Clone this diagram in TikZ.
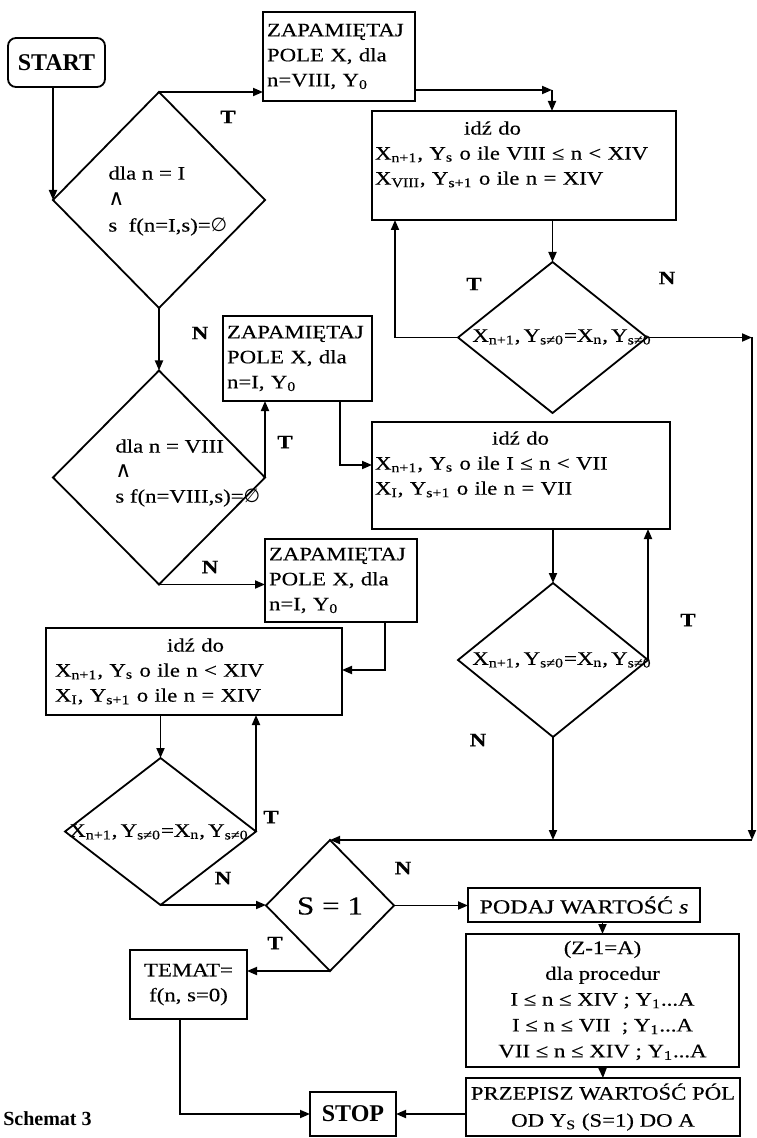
\documentclass[tikz,border=0pt]{standalone}
\usepackage{fontspec}
\setmainfont{Liberation Serif}[FakeStretch=1.2, FakeBold=0.3]
\newfontfamily\plainfont{Liberation Serif}
\newfontfamily\symfont{DejaVu Sans}
\usetikzlibrary{arrows.meta, shapes.geometric}
\newcommand{\ix}[1]{\textsubscript{#1}}

\tikzset{
  every node/.style={font=\fontsize{9.5}{12.5}\selectfont},
  box/.style={draw, line width=0.9pt, inner ysep=0pt, inner xsep=2pt, outer sep=0pt},
  lbox/.style={box, align=left},
  cbox/.style={box, align=center},
  term/.style={box, font=\plainfont\fontsize{12}{14}\selectfont\bfseries},
  dec/.style={draw, diamond, line width=0.9pt, inner sep=0pt, outer sep=0pt},
  dtext/.style={inner sep=0pt, align=left},
  yn/.style={font=\fontsize{9.5}{12}\selectfont\bfseries, inner sep=0pt},
  arr/.style={line width=0.9pt, -{Triangle[length=5pt,width=4pt]}},
}

\begin{document}
\begin{tikzpicture}[x=0.5pt,y=-0.5pt]
    \useasboundingbox (0,0) rectangle (756,1138);

    % left column
    \node[term, rounded corners=4pt, minimum width=48.5pt, minimum height=24.5pt] (start) at (56.5,62.5) {START};
    \node[dec, minimum width=106pt, minimum height=108pt] (d1) at (159,200) {};
    \node[dtext, anchor=west, font=\fontsize{9.5}{13}\selectfont] (d1txt) at (108,201) {dla n = I\\{\symfont\fontsize{11}{13}\selectfont ∧}\\s\ \ f(n=I,s)={\symfont ∅}};
    \node[dec, minimum width=106pt, minimum height=107pt] (d3) at (159,477.5) {};
    \node[dtext, anchor=west] (d3txt) at (115,473) {dla n = VIII\\{\symfont\fontsize{11}{12.5}\selectfont ∧}\\s f(n=VIII,s)={\symfont ∅}};
    \node[lbox, inner xsep=4.5pt, text width=139pt, minimum height=43.5pt] (idz3) at (194,671.5) {\hspace*{56pt}idź do\\X\ix{n+1}, Y\ix{s} o ile n < XIV\\X\ix{I}, Y\ix{s+1} o ile n = XIV};
    \node[dec, minimum width=95.5pt, minimum height=73.5pt] (d5) at (160.5,831.5) {};
    \node[dtext] (d5txt) at (159,832) {X\ix{n+1},\,Y\ix{s≠0}=X\ix{n},\,Y\ix{s≠0}};
    \node[cbox, minimum width=58.5pt, minimum height=34.5pt] (temat) at (188.5,984.5) {TEMAT=\\f(n, s=0)};
    \node[font=\plainfont\fontsize{10}{12}\selectfont\bfseries, anchor=east, inner sep=0pt] (caption) at (92,1119) {Schemat 3};

    % middle column
    \node[lbox, text width=72pt, minimum height=44.5pt] (zap1) at (339,56.5) {ZAPAMIĘTAJ\\POLE X, dla\\n=VIII, Y\ix{0}};
    \node[lbox, text width=70.5pt, minimum height=42.5pt] (zap2) at (297.5,358.5) {ZAPAMIĘTAJ\\POLE X, dla\\n=I, Y\ix{0}};
    \node[lbox, text width=72pt, minimum height=41.5pt] (zap3) at (341,580.5) {ZAPAMIĘTAJ\\POLE X, dla\\n=I, Y\ix{0}};
    \node[dec, minimum width=64pt, minimum height=65.5pt] (s1) at (330,905.5) {};
    \node[inner sep=0pt, font=\fontsize{13}{15}\selectfont] (s1txt) at (330,906) {S = 1};
    \node[term, minimum width=43pt, minimum height=22pt] (stop) at (353,1114) {STOP};

    % right column
    \node[lbox, inner xsep=1.5pt, text width=149pt, minimum height=54.5pt] (idz1) at (524,165.5) {\hspace*{44.5pt}idź do\\X\ix{n+1}, Y\ix{s} o ile VIII ≤ n < XIV\\X\ix{VIII}, Y\ix{s+1} o ile n = XIV\\\mbox{}};
    \node[dec, minimum width=94.5pt, minimum height=75.5pt] (d2) at (552.5,337.5) {};
    \node[dtext] (d2txt) at (562,337) {X\ix{n+1},\,Y\ix{s≠0}=X\ix{n},\,Y\ix{s≠0}};
    \node[lbox, inner xsep=1.5pt, text width=146pt, minimum height=53.5pt] (idz2) at (521,475.5) {\hspace*{58.5pt}idź do\\X\ix{n+1}, Y\ix{s} o ile I ≤ n < VII\\X\ix{I}, Y\ix{s+1} o ile n = VII\\\mbox{}};
    \node[dec, minimum width=95pt, minimum height=77pt] (d4) at (553,660) {};
    \node[dtext] (d4txt) at (562,660) {X\ix{n+1},\,Y\ix{s≠0}=X\ix{n},\,Y\ix{s≠0}};
    \node[cbox, minimum width=116pt, minimum height=17pt, font=\fontsize{10}{12}\selectfont] (podaj) at (584,905) {PODAJ WARTOŚĆ \textit{s}};
    \node[cbox, minimum width=136.5pt, minimum height=66.5pt, font=\fontsize{9.5}{12.9}\selectfont] (zbox) at (602.5,1000.5) {(Z-1=A)\\dla procedur\\I ≤ n ≤ XIV ; Y\ix{1}...A\\I ≤ n ≤ VII\ \ ; Y\ix{1}...A\\VII ≤ n ≤ XIV ; Y\ix{1}...A};
    \node[cbox, minimum width=137pt, minimum height=29pt, font=\fontsize{9.5}{13.5}\selectfont] (przep) at (603,1107) {PRZEPISZ WARTOŚĆ PÓL\\OD Y\ix{S} (S=1) DO A};

    % bends
    \coordinate (c1) at (552,90);
    \coordinate (c2) at (395,337.5);
    \coordinate (c3) at (752,337.5);
    \coordinate (c4) at (752,840);
    \coordinate (c5) at (340,465);
    \coordinate (c6) at (553,840);
    \coordinate (c7) at (385,670);
    \coordinate (c8) at (180,1114);

    % connectors
    \draw[arr] (start.south -| d1.west) -- (d1.west);
    \draw[arr] (d1.north) -- (d1.north -| zap1.west);
    \draw[arr] (zap1.east |- c1) -- (c1);
    \draw[arr] (c1) -- (c1 |- idz1.north);
    \draw[arr] (idz1.south -| d2.north) -- (d2.north);
    \draw[arr] (d2.west) -- (c2) -- (c2 |- idz1.south);
    \draw[arr] (d2.east) -- (c3);
    \draw[arr] (c3) -- (c4);
    \draw[arr] (c4) -- (s1.north);
    \draw[arr] (d1.south) -- (d3.north);
    \draw[arr] (d3.east) -- (d3.east |- zap2.south);
    \draw[arr] (zap2.south -| c5) -- (c5) -- (c5 -| idz2.west);
    \draw[arr] (idz2.south -| d4.north) -- (d4.north);
    \draw[arr] (d4.east) -- (d4.east |- idz2.south);
    \draw[arr] (d4.south) -- (c6);
    \draw[arr] (d3.south) -- (d3.south -| zap3.west);
    \draw[arr] (zap3.south -| c7) -- (c7) -- (c7 -| idz3.east);
    \draw[arr] (idz3.south -| d5.north) -- (d5.north);
    \draw[arr] (d5.east) -- (d5.east |- idz3.south);
    \draw[arr] (d5.south) -- (d5.south -| s1.west);
    \draw[arr] (s1.east) -- (s1.east -| podaj.west);
    \draw[arr] (podaj.south -| zbox.north) -- (zbox.north);
    \draw[arr] (zbox.south) -- (przep.north);
    \draw[arr] (stop.east -| przep.west) -- (stop.east);
    \draw[arr] (s1.south) -- (s1.south -| temat.east);
    \draw[arr] (temat.south -| c8) -- (c8) -- (stop.west);

    % branch labels
    \node[yn] (t1) at (228,117) {T};
    \node[yn] (n1) at (200,333) {N};
    \node[yn] (t2) at (474,284) {T};
    \node[yn] (n2) at (667,278) {N};
    \node[yn] (t3) at (285,442) {T};
    \node[yn] (n3) at (210,567) {N};
    \node[yn] (t4) at (688,620) {T};
    \node[yn] (n4) at (478,740) {N};
    \node[yn] (t5) at (271,817) {T};
    \node[yn] (n5) at (223,878) {N};
    \node[yn] (n6) at (403,868) {N};
    \node[yn] (t6) at (275,943) {T};
\end{tikzpicture}
\end{document}
